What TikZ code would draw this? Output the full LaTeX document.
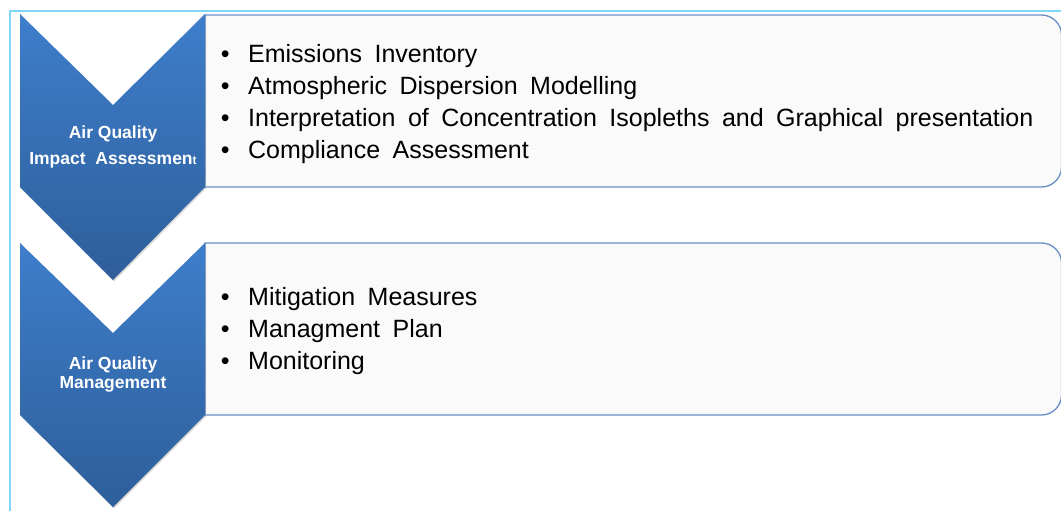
\documentclass[tikz,border=0pt]{standalone}
\usepackage{fontspec}
\setmainfont{Liberation Sans}
\newfontfamily\listfont[WordSpace=1.8]{Liberation Sans}
\usetikzlibrary{positioning,shadows}
\definecolor{frameblue}{RGB}{128,214,246}
\definecolor{chevtop}{RGB}{62,126,203}
\definecolor{chevbottom}{RGB}{46,94,154}
\definecolor{boxline}{RGB}{104,142,198}
\definecolor{boxfill}{RGB}{250,250,250}

\newcommand{\itm}{\makebox[27.4pt][l]{\textbullet}}

\begin{document}
\begin{tikzpicture}[x=1pt, y=-1pt,
    chevron/.style={top color=chevtop, bottom color=chevbottom, draw=none,
        drop shadow={opacity=0.3, shadow xshift=1pt, shadow yshift=-1.5pt}},
    listbox/.style={draw=boxline, line width=1.3pt, fill=boxfill},
    listtext/.style={inner sep=0pt, align=left, anchor=base west,
        font=\listfont\fontsize{25}{32}\selectfont},
    chevlabel/.style={inner sep=0pt, align=center, text=white,
        font=\bfseries\fontsize{17.5}{26}\selectfont}
]
\clip (0,0) rectangle (1061,511);
\fill[white] (0,0) rectangle (1061,511);

% Rahmen
\draw[frameblue, line width=1.6pt] (10,520) -- (10,11) -- (1070,11);

% Textfelder, rechts abgerundet
\draw[listbox] (205,15) -- (1041.5,15) arc[start angle=270, end angle=360, radius=20]
    -- (1061.5,167) arc[start angle=0, end angle=90, radius=20] -- (205,187) -- cycle;
\draw[listbox] (205,243) -- (1041.5,243) arc[start angle=270, end angle=360, radius=20]
    -- (1061.5,395) arc[start angle=0, end angle=90, radius=20] -- (205,415) -- cycle;

% Pfeile
\path[chevron] (20,14) -- (113,105) -- (205,14) -- (205,187)
    -- (113,280) -- (20,187) -- cycle;
\path[chevron] (20,243) -- (113,333) -- (205,243) -- (205,415)
    -- (113,507) -- (20,415) -- cycle;

\node[chevlabel] (impactlabel) at (113,147)
    {Air Quality\\Impact\ \ Assessmen{\fontsize{12}{12}\selectfont t}};
\node[chevlabel, font=\bfseries\fontsize{17.5}{19}\selectfont] (managementlabel)
    at (113,375) {Air Quality\\Management};

% Aufzaehlungen (Anker auf der letzten Grundlinie)
\node[listtext] (impactlist) at (220.6,158)
    {\itm Emissions Inventory\\
     \itm Atmospheric Dispersion Modelling\\
     \itm Interpretation of Concentration Isopleths and Graphical presentation\\
     \itm Compliance Assessment};
\node[listtext] (managementlist) at (220.6,369)
    {\itm Mitigation Measures\\
     \itm Managment Plan\\
     \itm Monitoring};

\end{tikzpicture}
\end{document}
